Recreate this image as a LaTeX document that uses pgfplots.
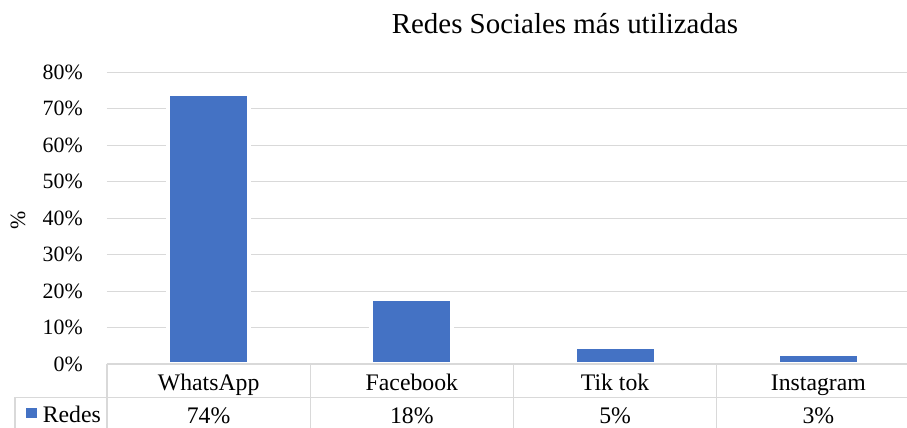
\documentclass[border=0pt]{standalone}
\usepackage{pgfplots}
\pgfplotsset{compat=1.18}
\usepackage{fontspec}
\setmainfont{Liberation Serif}
\definecolor{barblue}{HTML}{4472C4}
\definecolor{gridgray}{HTML}{D9D9D9}
\begin{document}
\begin{tikzpicture}
\path[use as bounding box] (-80.25pt,-48pt) rectangle (600pt,273pt);
\begin{axis}[
  scale only axis, width=609.75pt, height=219pt,
  xmin=-0.5, xmax=3.5, ymin=0, ymax=80,
  axis line style={draw=none},
  tick style={draw=none},
  major tick length=0pt,
  xtick=\empty,
  ytick={0,10,...,80},
  yticklabel={\pgfmathprintnumber{\tick}\%},
  /pgf/number format/assume math mode=true,
  yticklabel style={font=\fontsize{16.4}{18}\selectfont, inner sep=0pt, xshift=-18pt},
  ymajorgrids, grid style={gridgray, line width=0.75pt},
  ybar, bar width=60.75pt,
  clip=false,
  title={Redes Sociales más utilizadas},
  title style={at={(0.5633,1.1046)}, anchor=base, font=\fontsize{21.7}{24}\selectfont},
  ylabel={\%},
  every axis y label/.style={at={(-0.1095,0.493)}, rotate=90, anchor=center, font=\fontsize{16.4}{18}\selectfont},
  legend style={at={(-0.0996,-0.1753)}, anchor=west, draw=none, fill=none, inner sep=0pt, outer sep=0pt,
    nodes={inner sep=0pt, anchor=base}, column sep=4.6pt, font=\fontsize{17.8}{20}\selectfont},
  legend image code/.code={\fill[barblue] (0pt,4.5pt) rectangle (5pt,9.5pt);},
]
\addplot[fill=barblue, draw=white, line width=3pt] coordinates {(0,74.0) (1,17.8) (2,4.6) (3,2.7)};
\addlegendentry{Redes}
\begin{scope}[font=\fontsize{17.8}{20}\selectfont]
\node[anchor=base] at (axis cs:0,0) [yshift=-20.25pt] {WhatsApp};
\node[anchor=base] at (axis cs:1,0) [yshift=-20.25pt] {Facebook};
\node[anchor=base] at (axis cs:2,0) [yshift=-20.25pt] {Tik tok};
\node[anchor=base] at (axis cs:3,0) [yshift=-20.25pt] {Instagram};
\node[anchor=base] at (axis cs:0,0) [yshift=-44.5pt] {74\%};
\node[anchor=base] at (axis cs:1,0) [yshift=-44.5pt] {18\%};
\node[anchor=base] at (axis cs:2,0) [yshift=-44.5pt] {5\%};
\node[anchor=base] at (axis cs:3,0) [yshift=-44.5pt] {3\%};
\end{scope}
\end{axis}
\begin{scope}[gridgray, line width=1.1pt]
\draw (0,0) -- (609.75pt,0);
\draw (-69pt,-25.1pt) -- (609.75pt,-25.1pt);
\draw (-69pt,-25.1pt) -- (-69pt,-60pt);
\foreach \x in {0,152.44,304.88,457.31,609.75} \draw (\x pt,0) -- (\x pt,-60pt);
\end{scope}
\end{tikzpicture}
\end{document}
